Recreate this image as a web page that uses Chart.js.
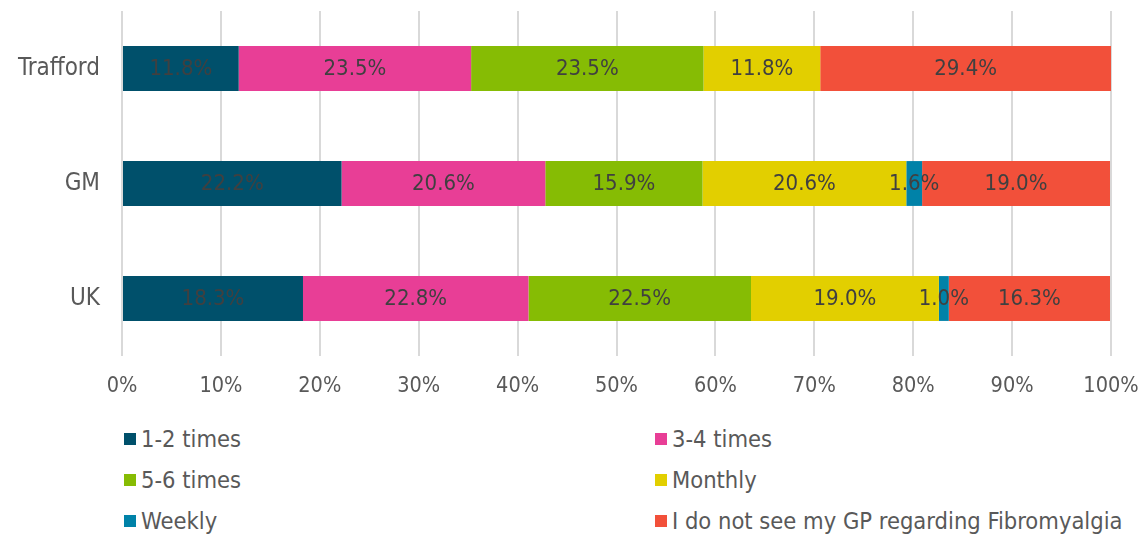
<!DOCTYPE html>
<html lang="en">
<head>
  <meta charset="UTF-8">
  <title>GP visits regarding Fibromyalgia</title>
  <script src="https://cdn.jsdelivr.net/npm/chart.js"></script>
  <style>
    body {
      margin: 0;
      background: #fff;
      font-family: 'DejaVu Sans Condensed', 'DejaVu Sans', sans-serif;
      color: #595959;
    }
    .wrap {
      position: relative;
      width: 1144px;
      height: 541px;
    }
    #chart-box {
      position: absolute;
      left: 0;
      top: 0;
      width: 1144px;
      height: 400px;
    }
    .legend {
      position: absolute;
      left: 124px;
      top: 427px;
      display: grid;
      grid-template-columns: 531px 480px;
      row-gap: 17px;
      font-size: 23.5px;
    }
    .legend div {
      display: flex;
      align-items: center;
      height: 24px;
      white-space: nowrap;
    }
    .legend span.sw {
      display: inline-block;
      width: 12px;
      height: 12px;
      margin-right: 5px;
    }
  </style>
</head>
<body>
  <div class="wrap">
    <div id="chart-box"><canvas id="gp-chart"></canvas></div>
    <div class="legend" id="legend"></div>
  </div>

  <script>
    const categories = ['Trafford', 'GM', 'UK'];
    const seriesNames = ['1-2 times', '3-4 times', '5-6 times', 'Monthly', 'Weekly', 'I do not see my GP regarding Fibromyalgia'];
    const times12 = [11.8, 22.2, 18.3];
    const times34 = [23.5, 20.6, 22.8];
    const times56 = [23.5, 15.9, 22.5];
    const monthly = [11.8, 20.6, 19.0];
    const weekly = [0, 1.6, 1.0];
    const notSeen = [29.4, 19.0, 16.3];
    const xTicks = [0, 10, 20, 30, 40, 50, 60, 70, 80, 90, 100];

    const colours = ['#00506B', '#E83E96', '#86BC04', '#E2CF00', '#0082A8', '#F2503A'];
    const allSeries = [times12, times34, times56, monthly, weekly, notSeen];
    const FONT = "'DejaVu Sans Condensed', 'DejaVu Sans', sans-serif";

    // values drawn in the middle of every segment
    const segmentLabels = {
      id: 'segmentLabels',
      afterDatasetsDraw(chart) {
        const ctx = chart.ctx;
        ctx.save();
        ctx.font = '22px ' + FONT;
        ctx.fillStyle = '#404040';
        ctx.textAlign = 'center';
        ctx.textBaseline = 'middle';
        chart.data.datasets.forEach((ds, i) => {
          chart.getDatasetMeta(i).data.forEach((bar, j) => {
            const v = ds.data[j];
            if (!v) return;
            const cx = (bar.x + bar.base) / 2;
            ctx.fillText(v.toFixed(1) + '%', cx, bar.y + 1);
          });
        });
        ctx.restore();
      }
    };

    new Chart(document.getElementById('gp-chart'), {
      type: 'bar',
      data: {
        labels: categories,
        datasets: seriesNames.map((name, i) => ({
          label: name,
          data: allSeries[i],
          backgroundColor: colours[i],
          borderWidth: 0,
          barPercentage: 0.39,
          categoryPercentage: 1
        }))
      },
      options: {
        indexAxis: 'y',
        responsive: true,
        maintainAspectRatio: false,
        animation: false,
        layout: { padding: { top: 11, right: 33, left: 0, bottom: 0 } },
        plugins: {
          legend: { display: false },
          tooltip: { enabled: false }
        },
        scales: {
          x: {
            stacked: true,
            min: 0,
            max: 100,
            afterBuildTicks(scale) {
              scale.ticks = xTicks.map(v => ({ value: v }));
            },
            afterFit(scale) {
              scale.height = 44;
              scale.paddingLeft = 0;
              scale.paddingRight = 0;
            },
            border: { display: false },
            grid: { color: '#D9D9D9', lineWidth: 2, drawTicks: false },
            ticks: {
              padding: 18,
              color: '#595959',
              font: { family: FONT, size: 21.5 },
              callback: v => v + '%'
            }
          },
          y: {
            stacked: true,
            afterFit(scale) {
              scale.width = 122;
              scale.paddingTop = 0;
              scale.paddingBottom = 0;
            },
            border: { display: false },
            grid: { display: false },
            ticks: {
              padding: 14,
              color: '#595959',
              font: { family: FONT, size: 24 }
            }
          }
        }
      },
      plugins: [segmentLabels]
    });

    // two-column legend like the original
    const legend = document.getElementById('legend');
    seriesNames.forEach((name, i) => {
      const item = document.createElement('div');
      item.innerHTML = '<span class="sw" style="background:' + colours[i] + '"></span>' + name;
      legend.appendChild(item);
    });
  </script>
</body>
</html>
